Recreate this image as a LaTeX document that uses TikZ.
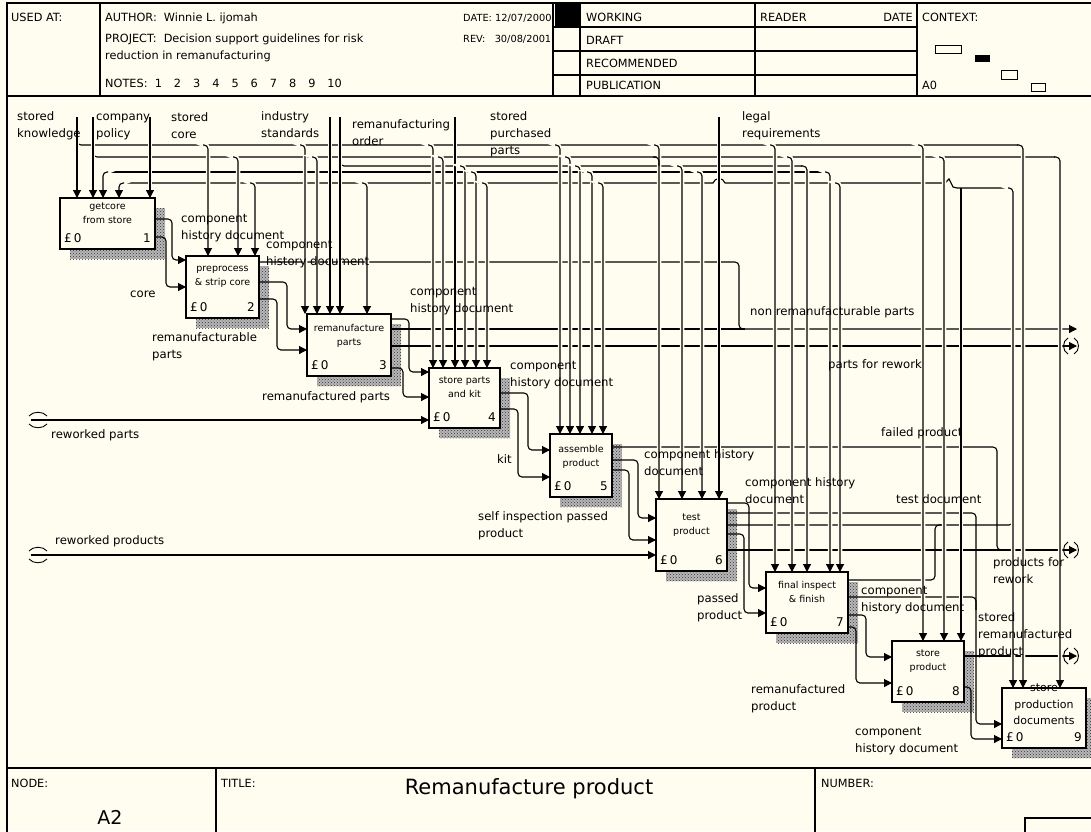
\documentclass[tikz,border=0pt]{standalone}
\usepackage{fontspec}
\setmainfont{DejaVu Sans}
\usetikzlibrary{arrows.meta,patterns,calc}
\definecolor{bg}{RGB}{255,253,240}
\newcommand\lfont{\fontsize{11.7}{17}\selectfont}
\tikzset{
  ln/.style={line width=1.1pt, rounded corners=4pt},
  arr/.style={ln, -{Triangle[length=8pt,width=8pt]}},
  gap/.style={preaction={draw=bg, line width=4.5pt, -, shorten >=10pt, shorten <=2pt}},
  carr/.style={arr, gap},
  frm/.style={line width=1.2pt},
  box/.style={draw, line width=1.3pt, fill=bg, anchor=north west, inner sep=0pt, outer sep=0pt},
  shd/.style={fill=black!28, postaction={pattern=crosshatch dots, pattern color=black!80}},
  btitle/.style={font=\fontsize{9.5}{14}\selectfont, align=center, inner sep=0pt, anchor=north},
  bnum/.style={font=\fontsize{12}{14}\selectfont, inner sep=0pt},
  lab/.style={font=\lfont, align=left, inner sep=0pt, anchor=north west},
  hdr/.style={font=\fontsize{11.3}{13}\selectfont, inner sep=0pt, anchor=base west},
  hdrs/.style={font=\fontsize{9.8}{13}\selectfont, inner sep=0pt, anchor=base west},
  tun/.style={line width=0.9pt},
}
\newcommand\idefbox[8]{%
  \fill[shd] (#2+10,#3+10) rectangle (#4+10,#5+10);
  \node[box, minimum width=#4-#2, minimum height=#5-#3] (#1) at (#2,#3) {};
  \node[btitle] (#1t) at ($(#1.north)+(0,#8-6.4)$) {\strut #6};
  \node[bnum, anchor=south west] (#1c) at ($(#1.south west)+(4,-6)$) {£\,0};
  \node[bnum, anchor=south east] (#1n) at ($(#1.south east)+(-4,-6)$) {#7};
}
\newcommand\lab[4]{\node[lab] (#1) at (#2,#3-7.7) {\strut #4};}
\newcommand\tunR[2]{%
  \draw[tun] (#1-3,#2-8) .. controls (#1-9,#2-5) and (#1-9,#2+5) .. (#1-3,#2+8);
  \draw[tun] (#1+3,#2-8) .. controls (#1+9,#2-5) and (#1+9,#2+5) .. (#1+3,#2+8);}
\newcommand\tunL[2]{%
  \draw[tun] (#1,#2-4) .. controls (#1+4,#2-9) and (#1+14,#2-9) .. (#1+18,#2-4);
  \draw[tun] (#1,#2+4) .. controls (#1+4,#2+9) and (#1+14,#2+9) .. (#1+18,#2+4);}
\newcommand\nsp{\hspace{12pt}}
\begin{document}
\begin{tikzpicture}[x=1pt,y=-1pt]
\fill[bg] (0,0) rectangle (1091,831);
\useasboundingbox (0,0) rectangle (1091,831);

% ---------- frame and header ----------
\draw[frm] (7,835) -- (7,3) -- (1095,3);
\draw[line width=2.4pt] (7,96) -- (1095,96);
\draw[frm] (100,3) -- (100,96) (553,3) -- (553,96) (580,3) -- (580,96) (755,3) -- (755,96) (917,3) -- (917,96);
\draw[frm] (553,27) -- (917,27) (553,51) -- (917,51) (553,75) -- (917,75);
\fill (555,4) rectangle (580,27);
\draw[line width=1pt] (935,45) rectangle (961,53) (1001,70) rectangle (1017,79) (1031,83) rectangle (1045,91);
\fill (975,55) rectangle (990,62);
\node[hdr] (h1) at (11,21) {USED AT:};
\node[hdr] (h2) at (105,21) {AUTHOR:\ \ Winnie L. ijomah};
\node[hdr] (h3) at (105,42) {PROJECT:\ \ Decision support guidelines for risk};
\node[hdr] (h4) at (105,59) {reduction in remanufacturing};
\node[hdr] (h5) at (105,87) {NOTES:\ \ 1\nsp 2\nsp 3\nsp 4\nsp 5\nsp 6\nsp 7\nsp 8\nsp 9\nsp 10};
\node[hdrs] (h6) at (463,21) {DATE:\ 12/07/2000};
\node[hdrs] (h7) at (463,42) {REV:\ \ \ 30/08/2001};
\node[hdr] (h8) at (586,21) {WORKING};
\node[hdr] (h9) at (586,44) {DRAFT};
\node[hdr] (h10) at (586,67) {RECOMMENDED};
\node[hdr] (h11) at (586,89) {PUBLICATION};
\node[hdr] (h12) at (760,21) {READER};
\node[hdr, anchor=base east] (h13) at (913,21) {DATE};
\node[hdr] (h14) at (922,21) {CONTEXT:};
\node[hdr] (h15) at (922,89) {A0};

% ---------- bottom ----------
\draw[line width=2pt] (7,768) -- (1095,768);
\draw[frm] (216,768) -- (216,835) (815,768) -- (815,835);
\draw[frm] (1025,835) -- (1025,818) -- (1095,818);
\node[hdr] (f1) at (11,787) {NODE:};
\node[hdr] (f2) at (221,787) {TITLE:};
\node[hdr] (f3) at (821,787) {NUMBER:};
\node[font=\fontsize{21}{24}\selectfont, inner sep=0pt] (f4) at (529,789) {Remanufacture product};
\node[font=\fontsize{19}{22}\selectfont, inner sep=0pt] (f5) at (110,817) {A2};

% ---------- boxes ----------
\idefbox{b1}{60}{198}{155}{249}{getcore\\from store}{1}{8}
\idefbox{b2}{186}{256}{259}{318}{preprocess\\\& strip core}{2}{12}
\idefbox{b3}{307}{314}{391}{376}{remanufacture\\parts}{3}{14}
\idefbox{b4}{429}{368}{500}{428}{store parts\\and kit}{4}{12}
\idefbox{b5}{550}{434}{612}{497}{assemble\\product}{5}{15}
\idefbox{b6}{656}{499}{727}{571}{test\\product}{6}{18}
\idefbox{b7}{766}{572}{848}{633}{final inspect\\\& finish}{7}{13}
\idefbox{b8}{892}{641}{964}{702}{store\\product}{8}{12}
\idefbox{b9}{1002}{688}{1086}{748}{}{9}{4}
\node[font=\fontsize{11}{16.5}\selectfont, align=center, inner sep=0pt, anchor=north] (b9title) at ($(b9.north)+(0,-8)$) {\strut store\\production\\documents};

% ---------- flows (drawn first, broken later by controls) ----------
\draw[arr] (b1.east |- 0,219) -- (172,219) -- (172,260) -- (b2.west |- 0,260);
\draw[arr] (b1.east |- 0,237) -- (166,237) -- (166,287) -- (b2.west |- 0,287);

\draw[arr] (b2.east |- 0,262) -- (739,262) -- (739,329) -- (1077,329);
\draw[arr] (b2.east |- 0,282) -- (287,282) -- (287,329) -- (b3.west |- 0,329);
\draw[arr] (b2.east |- 0,299) -- (277,299) -- (277,350) -- (b3.west |- 0,350);

\draw[arr] (b3.east |- 0,319) -- (409,319) -- (409,372) -- (b4.west |- 0,372);
\draw[ln] (b3.east |- 0,329) -- (745,329);
\draw[arr] (b3.east |- 0,346) -- (1077,346);
\draw[arr] (b3.east |- 0,368) -- (403,368) -- (403,397) -- (b4.west |- 0,397);

\draw[arr] (31,420) -- (b4.west |- 0,420);

\draw[arr] (b4.east |- 0,393) -- (528,393) -- (528,450) -- (b5.west |- 0,450);
\draw[arr] (b4.east |- 0,409) -- (518,409) -- (518,477) -- (b5.west |- 0,477);

\draw[ln] (b5.east |- 0,447) -- (997,447) -- (997,550) -- (1006,550);
\draw[arr] (b5.east |- 0,460) -- (638,460) -- (638,518) -- (b6.west |- 0,518);
\draw[arr] (b5.east |- 0,470) -- (629,470) -- (629,540) -- (b6.west |- 0,540);

\draw[arr] (31,555) -- (b6.west |- 0,555);

\draw[arr] (b6.east |- 0,503) -- (749,503) -- (749,588) -- (b7.west |- 0,588);
\draw[arr] (b6.east |- 0,513) -- (976,513) -- (976,724) -- (b9.west |- 0,724);
\draw[ln] (b6.east |- 0,525) -- (1013,525) -- (1013,515);
\draw[arr] (b6.east |- 0,534) -- (744,534) -- (744,613) -- (b7.west |- 0,613);
\draw[arr] (b6.east |- 0,550) -- (1077,550);

\draw[ln] (b7.east |- 0,580) -- (935,580) -- (935,525) -- (943,525);
\draw[ln] (b7.east |- 0,597) -- (976,597) -- (976,610);
\draw[arr] (b7.east |- 0,615) -- (866,615) -- (866,657) -- (b8.west |- 0,657);
\draw[arr] (b7.east |- 0,627) -- (856,627) -- (856,683) -- (b8.west |- 0,683);

\draw[arr] (b8.east |- 0,656) -- (1077,656);
\draw[arr] (b8.east |- 0,687) -- (971,687) -- (971,739) -- (b9.west |- 0,739);

% ---------- buses ----------
\draw[ln] (77,139) |- (1018,145);
\draw[ln] (93,150) |- (1055,157);
\draw[ln] (340,160) |- (802,166);
\draw[ln] (106,172) -- (826,172);
\draw[line width=1.1pt] (122,183) -- (713,183) .. controls (715,177) and (723,177) .. (725,183) -- (945,183) -- (949,179) -- (953,187) -- (957,188) -- (1009,188);

% ---------- controls (with gaps where they cross) ----------
\foreach \x/\b in {77/b1,93/b1,150/b1,330/b3,340/b3,455/b4}
  \draw[carr] (\x,117) -- (\x,0 |- \b.north);
\draw[carr] (719,117) -- (719,0 |- b6.north);

\draw[carr] (1017,145) -| (1023,0 |- b9.north);
\foreach \x/\b in {208/b2,305/b3,433/b4,560/b5,659/b6,775/b7,923/b8}
  \draw[carr] (\x-5,145) -| (\x,0 |- \b.north);
\draw[carr] (1054,157) -| (1060,0 |- b9.north);
\foreach \x/\b in {238/b2,317/b3,443/b4,570/b5,792/b7,944/b8}
  \draw[carr] (\x-5,157) -| (\x,0 |- \b.north);
\draw[ln] (653,157) -| (659,166);
\draw[carr] (801,166) -| (807,0 |- b7.north);
\foreach \x/\b in {465/b4,580/b5,682/b6}
  \draw[carr] (\x-5,166) -| (\x,0 |- \b.north);
\draw[carr] (108,172) -| (103,0 |- b1.north);
\draw[carr] (825,172) -| (830,0 |- b7.north);
\foreach \x/\b in {476/b4,592/b5,702/b6}
  \draw[carr] (\x-5,172) -| (\x,0 |- \b.north);
\draw[carr] (124,183) -| (119,0 |- b1.north);
\draw[carr] (1008,188) -| (1013,0 |- b9.north);
\draw[carr] (961,188) -- (961,0 |- b8.north);
\foreach \x/\b in {255/b2,367/b3,487/b4,603/b5,840/b7}
  \draw[carr] (\x-5,183) -| (\x,0 |- \b.north);

% ---------- tunnels ----------
\tunR{1071}{346}
\tunR{1071}{550}
\tunR{1071}{656}
\tunL{29}{420}
\tunL{29}{555}

% ---------- labels ----------
\lab{l1}{17}{116}{stored\\knowledge}
\lab{l2}{96}{116}{company\\policy}
\lab{l3}{171}{117}{stored\\core}
\lab{l4}{261}{116}{industry\\standards}
\lab{l5}{352}{124}{remanufacturing\\order}
\lab{l6}{490}{116}{stored\\purchased\\parts}
\lab{l7}{742}{116}{legal\\requirements}
\lab{l8}{181}{218}{component\\history document}
\lab{l9}{266}{244}{component\\history document}
\lab{l10}{130}{293}{core}
\lab{l11}{152}{337}{remanufacturable\\parts}
\lab{l12}{410}{291}{component\\history document}
\lab{l13}{750}{311}{non remanufacturable parts}
\lab{l14}{828}{364}{parts for rework}
\lab{l15}{262}{396}{remanufactured parts}
\lab{l16}{510}{365}{component\\history document}
\lab{l17}{51}{434}{reworked parts}
\lab{l18}{881}{432}{failed product}
\lab{l19}{497}{459}{kit}
\lab{l20}{644}{454}{component history\\document}
\lab{l21}{745}{482}{component history\\document}
\lab{l22}{896}{499}{test document}
\lab{l23}{478}{516}{self inspection passed\\product}
\lab{l24}{55}{540}{reworked products}
\lab{l25}{993}{562}{products for\\rework}
\lab{l26}{697}{598}{passed\\product}
\lab{l27}{861}{590}{component\\history document}
\lab{l28}{978}{617}{stored\\remanufactured\\product}
\lab{l29}{751}{689}{remanufactured\\product}
\lab{l30}{855}{731}{component\\history document}
\end{tikzpicture}
\end{document}
